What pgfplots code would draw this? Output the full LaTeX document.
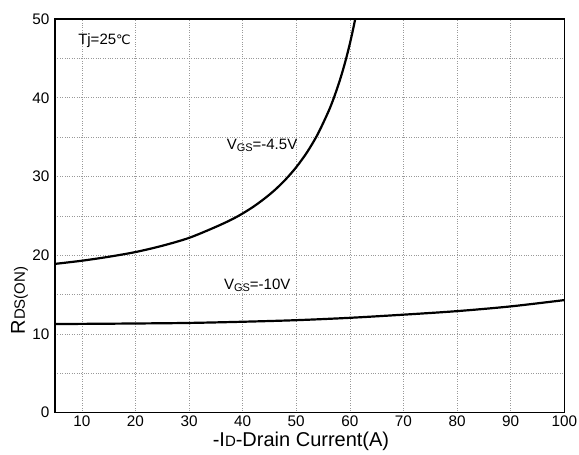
\documentclass[border=0pt]{standalone}
\usepackage{fontspec}
\setmainfont{Liberation Sans}
\newfontfamily\dejavu{DejaVu Sans}
\usepackage{pgfplots}
\pgfplotsset{compat=1.18}

\newcommand{\fs}[1]{\fontsize{#1}{#1}\selectfont}

\begin{document}
\begin{tikzpicture}
\useasboundingbox (-55bp,-42.3bp) rectangle (524bp,412.7bp);
\begin{axis}[
    scale only axis,
    width=509.3bp,
    height=393.7bp,
    xmin=5, xmax=100,
    ymin=0, ymax=50,
    xtick={10,20,...,100},
    ytick={0,10,...,50},
    minor ytick={5,15,...,45},
    major tick length=0pt,
    minor tick length=0pt,
    grid=both,
    major grid style={dotted, gray!80, line width=0.6bp},
    minor grid style={dotted, gray!80, line width=0.6bp},
    axis line style={black, line width=1.2bp},
    /pgf/number format/assume math mode=true,
    ticklabel style={font=\fs{15.3bp}},
    yticklabel style={xshift=-2bp},
    xlabel={-I{\fs{15bp}D}-Drain Current(A)},
    ylabel={R{\fs{15bp}DS(ON)}},
    xlabel style={font=\fs{20bp}, at={(ticklabel cs:0.483)}, anchor=near ticklabel, inner sep=1bp},
    ylabel style={font=\fs{20bp}, at={(ticklabel cs:0.285)}, anchor=near ticklabel, inner sep=1bp},
    clip=true,
]
% VGS = -4.5 V
\addplot[black, line width=2.2bp, smooth] coordinates {
    (5,18.9) (10,19.3) (15,19.8) (20,20.4) (25,21.2) (30,22.2)
    (35,23.6) (38,24.55) (40,25.3) (42,26.16) (44,27.15) (46,28.28)
    (48,29.61) (50,31.18) (52,33.06) (54,35.36) (56,38.24) (57,39.96)
    (58,41.93) (59,44.21) (60,46.86) (61,50.0) (62,53.76)
};
% VGS = -10 V
\addplot[black, line width=2.2bp, smooth] coordinates {
    (5,11.27) (10,11.28) (20,11.33) (30,11.4) (40,11.55) (50,11.75)
    (60,12.05) (70,12.45) (80,12.9) (90,13.5) (100,14.3)
};
\node[anchor=base west, inner sep=0pt, font=\fs{15bp}] at (axis cs:9.3,46.8) {Tj=25{\dejavu\fs{13bp}℃}};
\node[anchor=base west, inner sep=0pt, font=\fs{15bp}] at (axis cs:37.0,33.4) {V\raisebox{-2bp}{\fs{11bp}GS}=-4.5V};
\node[anchor=base west, inner sep=0pt, font=\fs{15bp}] at (axis cs:36.5,15.6) {V\raisebox{-2bp}{\fs{11bp}GS}=-10V};
\end{axis}
\end{tikzpicture}
\end{document}
